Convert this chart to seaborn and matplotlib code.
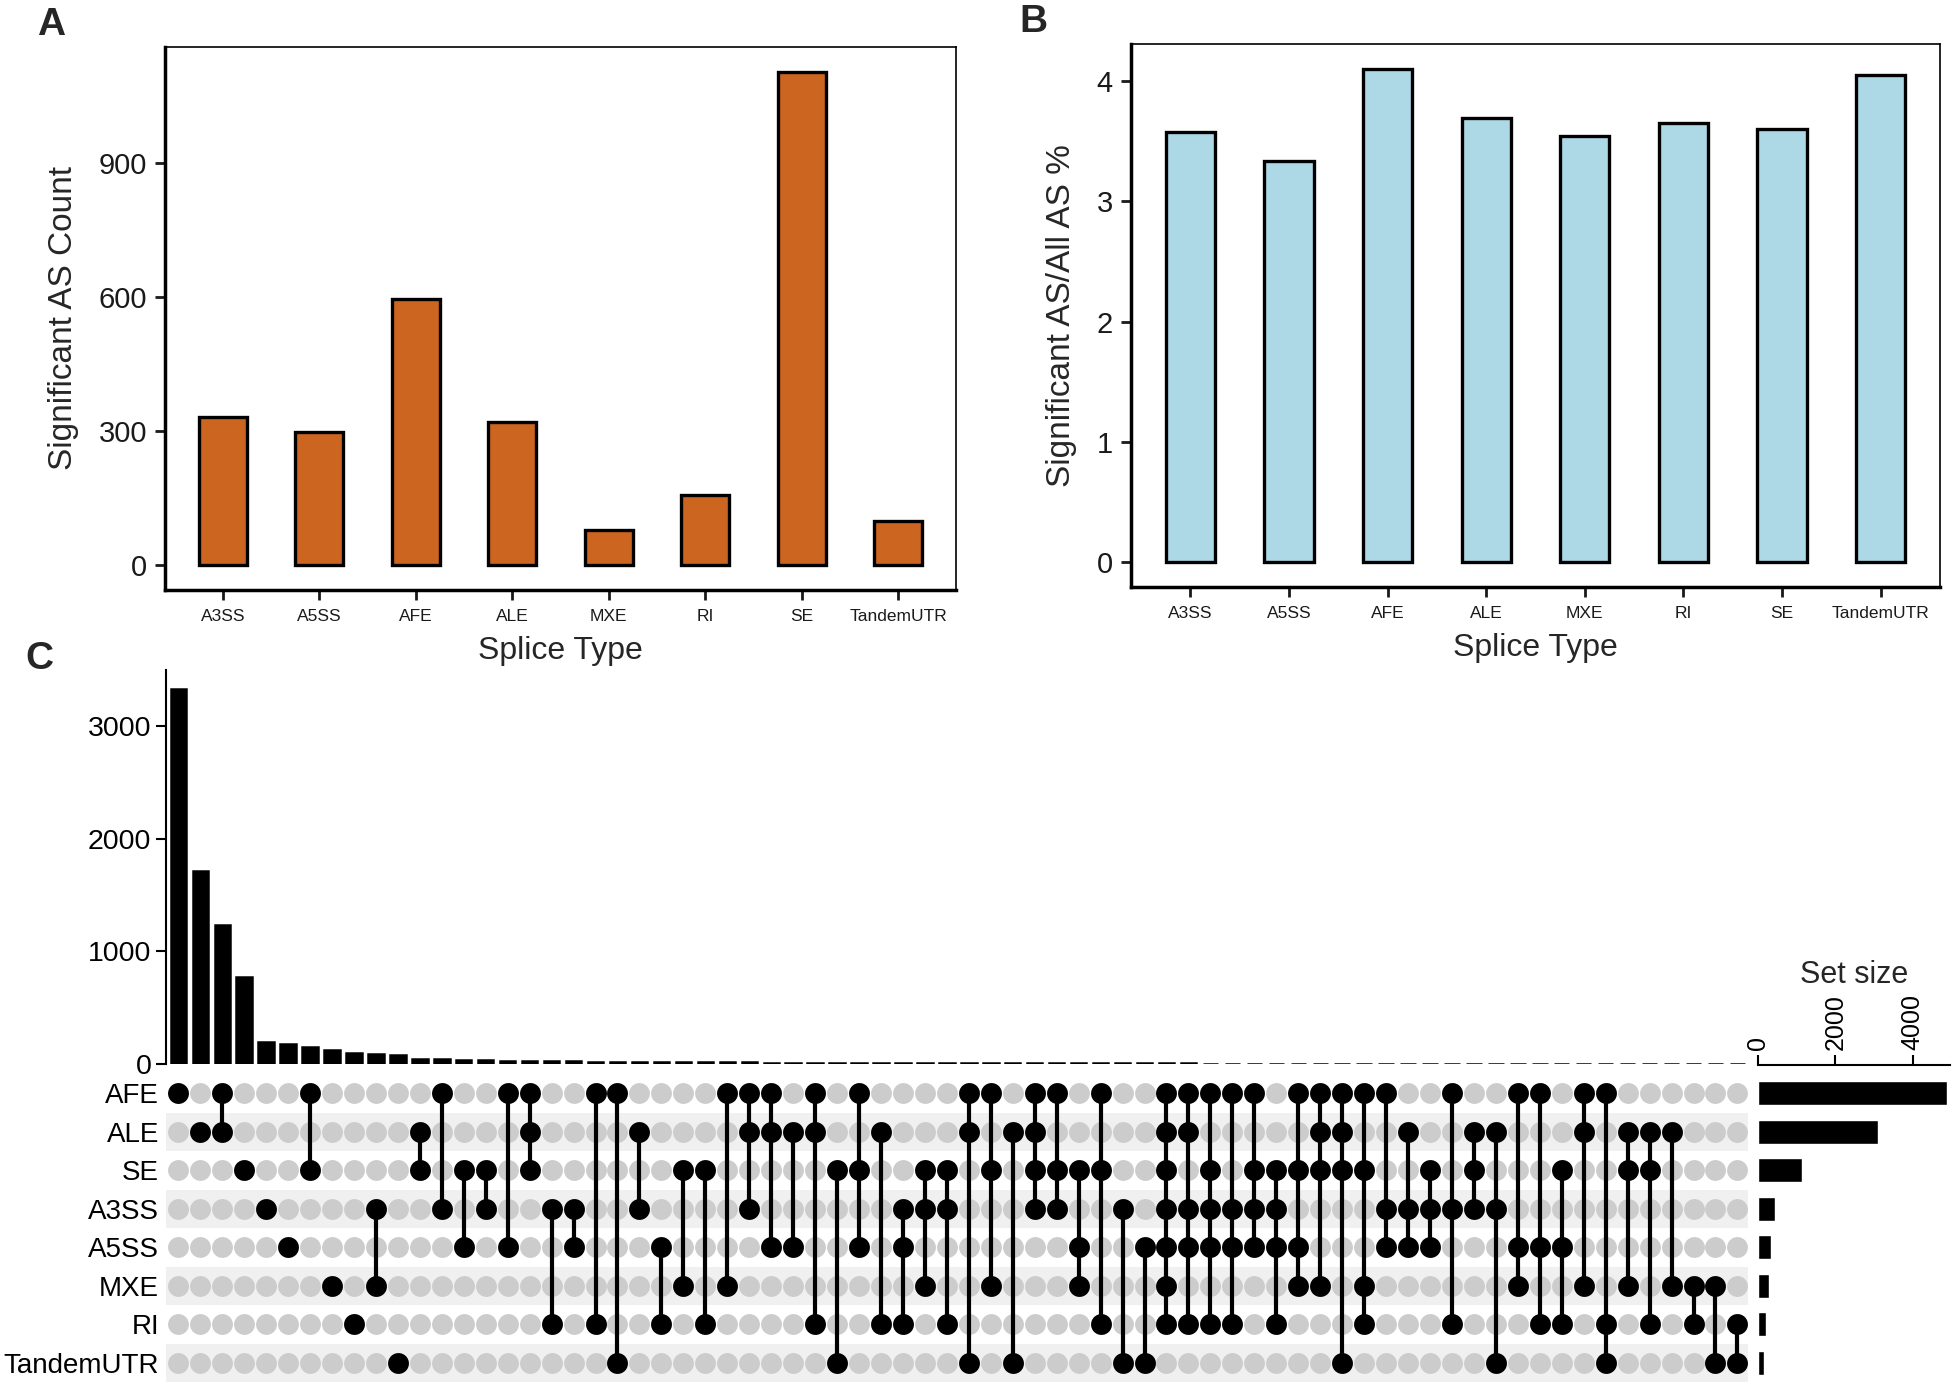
import matplotlib
matplotlib.use('Agg')
import matplotlib.pyplot as plt
import numpy as np
import pandas as pd
import seaborn as sns

SPLICE_TYPES = ['A3SS', 'A5SS', 'AFE', 'ALE', 'MXE', 'RI', 'SE', 'TandemUTR']
SIG_COUNT = [333, 298, 596, 321, 80, 158, 1105, 100]
SIG_PERCENT = [3.57, 3.33, 4.10, 3.69, 3.54, 3.65, 3.60, 4.05]

# upset plot: row order top to bottom
SETS = ['AFE', 'ALE', 'SE', 'A3SS', 'A5SS', 'MXE', 'RI', 'TandemUTR']
SET_SIZE = [4890, 3090, 1135, 446, 343, 274, 206, 145]

INTERSECTIONS = [
    'AFE', 'ALE', 'AFE ALE', 'SE', 'A3SS', 'A5SS', 'AFE SE', 'MXE', 'RI',
    'A3SS MXE', 'TandemUTR', 'ALE SE', 'AFE A3SS', 'SE A5SS', 'SE A3SS',
    'AFE A5SS', 'AFE ALE SE', 'A3SS RI', 'A3SS A5SS', 'AFE RI',
    'AFE TandemUTR', 'ALE A3SS', 'A5SS RI', 'SE MXE', 'SE RI', 'AFE MXE',
    'AFE ALE A3SS', 'AFE ALE A5SS', 'ALE A5SS', 'AFE ALE RI',
    'SE TandemUTR', 'AFE SE A5SS', 'ALE RI', 'A3SS A5SS RI',
    'SE A3SS MXE', 'SE A3SS RI', 'AFE ALE TandemUTR', 'AFE SE MXE',
    'ALE TandemUTR', 'AFE ALE SE A3SS', 'AFE SE A3SS', 'SE A5SS MXE',
    'AFE SE RI', 'A3SS TandemUTR', 'A5SS TandemUTR',
    'AFE ALE SE A3SS A5SS MXE RI', 'AFE ALE A3SS A5SS RI',
    'AFE SE A3SS A5SS RI', 'AFE A3SS A5SS RI', 'AFE SE A3SS A5SS',
    'SE A3SS A5SS RI', 'AFE SE A5SS MXE', 'AFE ALE SE MXE',
    'AFE ALE SE TandemUTR', 'AFE SE MXE RI', 'AFE A3SS A5SS',
    'ALE A3SS A5SS', 'SE A3SS A5SS', 'AFE A3SS RI', 'ALE SE A3SS',
    'ALE A3SS TandemUTR', 'AFE A5SS MXE', 'AFE A5SS RI', 'SE A5SS RI',
    'AFE ALE MXE', 'AFE RI TandemUTR', 'ALE SE MXE', 'ALE SE RI',
    'ALE MXE', 'MXE RI', 'MXE TandemUTR', 'RI TandemUTR',
]
INTERSECTION_SIZE = [
    3334, 1717, 1236, 777, 195, 180, 151, 121, 98, 92, 80, 48, 42, 36, 33,
    30, 28, 26, 24, 22, 20, 19, 18, 17, 16, 15, 14, 13, 12, 12, 11, 10, 10,
    9, 9, 8, 8, 7, 7, 7, 6, 6, 6, 5, 5, 5, 5, 4, 4, 4, 4, 3, 3, 3, 3, 3,
    2, 2, 2, 2, 2, 2, 2, 1, 1, 1, 1, 1, 1, 1, 1, 1,
]

W, H = 1959, 1384


def box(x0, y0, x1, y1):
    # pixel box (top-left origin) -> figure fraction rect
    return [x0 / W, 1 - y1 / H, (x1 - x0) / W, (y1 - y0) / H]


def plot_type_bars(ax, values, color, ylabel, yticks, ylim):
    df = pd.DataFrame({'type': SPLICE_TYPES, 'value': values})
    sns.barplot(data=df, x='type', y='value', color=color, saturation=1,
                width=0.5, edgecolor='black', linewidth=2.4, ax=ax)
    ax.set_xlim(-0.6, 7.6)
    ax.set_ylim(*ylim)
    ax.set_yticks(yticks)
    ax.set_xlabel('Splice Type', fontsize=23, labelpad=8)
    ax.set_ylabel(ylabel, fontsize=24, labelpad=14)
    ax.tick_params(axis='y', left=True, labelsize=21, length=7, width=2,
                   colors='#1a1a1a', pad=6)
    ax.tick_params(axis='x', bottom=True, labelsize=12.5, length=7, width=2,
                   colors='#1a1a1a', pad=7)
    for side in ['left', 'bottom']:
        ax.spines[side].set_linewidth(2.5)
    for side in ['top', 'right']:
        ax.spines[side].set_linewidth(1.2)
    for s in ax.spines.values():
        s.set_color('black')
        s.set_visible(True)


def plot_upset(fig):
    n = len(INTERSECTIONS)
    xlim = (-0.56, n - 0.52)
    ax_bar = fig.add_axes(box(166, 670, 1748, 1064))
    ax_mat = fig.add_axes(box(166, 1074, 1748, 1382))
    ax_set = fig.add_axes(box(1758, 1065, 1950, 1382))

    # intersection size bars
    bar_df = pd.DataFrame({'idx': np.arange(n), 'size': INTERSECTION_SIZE})
    sns.barplot(data=bar_df, x='idx', y='size', color='black', saturation=1,
                width=0.7, edgecolor='black', linewidth=1.8, ax=ax_bar)
    ax_bar.set_xlim(*xlim)
    ax_bar.set_ylim(0, 3500)
    ax_bar.set_yticks([0, 1000, 2000, 3000])
    ax_bar.set_xticks([])
    ax_bar.set_xlabel('')
    ax_bar.set_ylabel('')
    for side in ['top', 'right', 'bottom']:
        ax_bar.spines[side].set_visible(False)
    ax_bar.spines['left'].set_linewidth(1.5)
    ax_bar.spines['left'].set_color('black')
    ax_bar.tick_params(axis='y', left=True, labelsize=20.5, length=7,
                       width=1.5, colors='black')

    # matrix
    for r in range(len(SETS)):
        if r % 2 == 1:
            ax_mat.axhspan(r - 0.5, r + 0.5, color='#f0f0f0', zorder=0, lw=0)
    gx, gy = np.meshgrid(np.arange(n), np.arange(len(SETS)))
    ax_mat.scatter(gx.ravel(), gy.ravel(), s=225, color='#cccccc',
                   linewidths=0, zorder=1)
    for i, combo in enumerate(INTERSECTIONS):
        rows = [SETS.index(s) for s in combo.split()]
        if len(rows) > 1:
            ax_mat.plot([i, i], [min(rows), max(rows)], color='black',
                        lw=3, zorder=2)
        ax_mat.scatter([i] * len(rows), rows, s=225, color='black',
                       linewidths=0, zorder=3)
    ax_mat.set_xlim(*xlim)
    ax_mat.set_ylim(len(SETS) - 0.5, -0.5)
    ax_mat.set_yticks(range(len(SETS)))
    ax_mat.set_yticklabels(SETS)
    ax_mat.set_xticks([])
    ax_mat.tick_params(axis='y', labelsize=20, length=0, pad=5,
                       colors='black')
    for s in ax_mat.spines.values():
        s.set_visible(False)

    # set size bars
    set_df = pd.DataFrame({'set': SETS, 'size': SET_SIZE})
    sns.barplot(data=set_df, y='set', x='size', order=SETS, orient='h',
                color='black', saturation=1, width=0.62, ax=ax_set)
    ax_set.set_xlim(0, 4960)
    ax_set.set_ylim(len(SETS) - 0.5, -0.73)
    ax_set.set_xticks([0, 2000, 4000])
    ax_set.set_yticks([])
    ax_set.set_ylabel('')
    ax_set.xaxis.set_ticks_position('top')
    ax_set.xaxis.set_label_position('top')
    ax_set.set_xlabel('Set size', fontsize=22, labelpad=8)
    ax_set.tick_params(axis='x', top=True, labelsize=18, length=7,
                       width=1.5, labelrotation=90, colors='black')
    for side in ['left', 'right', 'bottom']:
        ax_set.spines[side].set_visible(False)
    ax_set.spines['top'].set_linewidth(1.5)
    ax_set.spines['top'].set_color('black')


def main():
    sns.set_style('white')
    plt.rcParams['font.family'] = ['Liberation Sans', 'DejaVu Sans']

    fig = plt.figure(figsize=(W / 100, H / 100), dpi=100)

    ax_a = fig.add_axes(box(165, 47, 956, 590))
    plot_type_bars(ax_a, SIG_COUNT, '#cc6520', 'Significant AS Count',
                   [0, 300, 600, 900], (-55.3, 1160.3))

    ax_b = fig.add_axes(box(1131, 44, 1940, 587))
    plot_type_bars(ax_b, SIG_PERCENT, '#add8e6', 'Significant AS/All AS %',
                   [0, 1, 2, 3, 4], (-0.205, 4.305))

    plot_upset(fig)

    for letter, x, y in [('A', 51, 25), ('B', 1033, 22), ('C', 39, 659)]:
        fig.text(x / W, 1 - y / H, letter, fontsize=28, fontweight='bold',
                 ha='center', va='center')

    fig.savefig('out.png', dpi=100)


if __name__ == '__main__':
    main()
